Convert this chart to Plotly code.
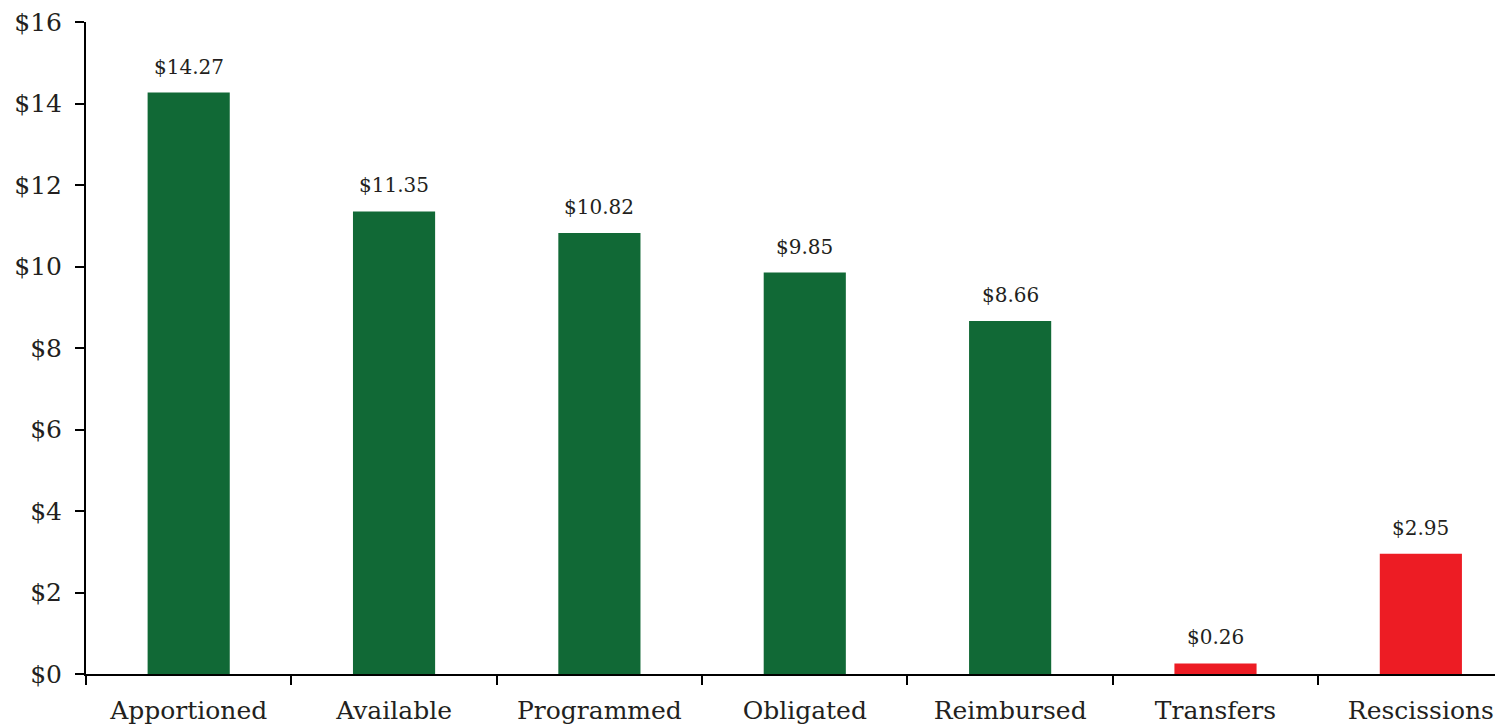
import plotly.graph_objects as go

categories = ["Apportioned", "Available", "Programmed", "Obligated", "Reimbursed", "Transfers", "Rescissions"]
values = [14.27, 11.35, 10.82, 9.85, 8.66, 0.26, 2.95]
labels = ["$14.27", "$11.35", "$10.82", "$9.85", "$8.66", "$0.26", "$2.95"]
bar_colors = ["#116936", "#116936", "#116936", "#116936", "#116936", "#ED1C24", "#ED1C24"]
y_ticks = [0, 2, 4, 6, 8, 10, 12, 14, 16]
y_tick_text = ["$0", "$2", "$4", "$6", "$8", "$10", "$12", "$14", "$16"]

FONT = "DejaVu Serif"
TXT = "#231F20"

fig = go.Figure(go.Bar(
    x=categories, y=values, marker_color=bar_colors, width=0.4,
    marker_line_width=0, hoverinfo="skip",
))

for c, v, t in zip(categories, values, labels):
    fig.add_annotation(x=c, y=v, text=t, showarrow=False, yanchor="bottom", yshift=12,
                       font=dict(family=FONT, size=20, color=TXT))

fig.update_layout(
    width=1503, height=726,
    margin=dict(l=78, r=8, t=14, b=60),
    plot_bgcolor="white", paper_bgcolor="white",
    showlegend=False,
    font=dict(family=FONT, color=TXT),
    xaxis=dict(
        type="category", range=[-0.5, 6.4], tickson="boundaries",
        showline=True, linecolor="black", linewidth=2,
        ticks="outside", ticklen=9, tickwidth=2, tickcolor="black",
        tickfont=dict(family=FONT, size=25, color=TXT),
        ticklabelstandoff=13, automargin=False, ticklabeloverflow="allow",
        showgrid=False, zeroline=False,
    ),
    yaxis=dict(
        range=[0, 16], tickmode="array", tickvals=y_ticks, ticktext=y_tick_text,
        showline=True, linecolor="black", linewidth=2,
        ticks="outside", ticklen=9, tickwidth=2, tickcolor="black",
        tickfont=dict(family=FONT, size=25, color=TXT),
        ticklabelstandoff=8, automargin=False, ticklabeloverflow="allow",
        showgrid=False, zeroline=False,
    ),
)

fig.write_html("out.html")
